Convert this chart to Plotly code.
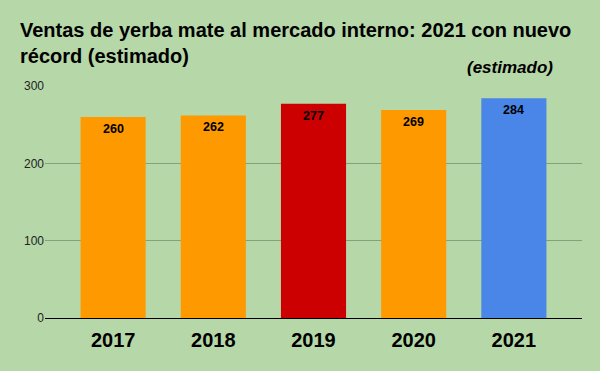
import plotly.graph_objects as go

years = ["2017", "2018", "2019", "2020", "2021"]
values = [260, 262, 277, 269, 284]
colors = ["#FF9900", "#FF9900", "#CC0000", "#FF9900", "#4A86E8"]
title_text = "Ventas de yerba mate al mercado interno: 2021 con nuevo<br>récord (estimado)"
note_text = "(estimado)"

FONT = "Liberation Sans, Arial"

fig = go.Figure(go.Bar(
    x=years, y=values, marker_color=colors, marker_line_width=0,
    width=0.65, hoverinfo="x+y",
))

annotations = [
    dict(text=title_text, x=-0.0503, xref="paper", xanchor="left", align="left",
         y=1.185, yref="paper", yanchor="middle", showarrow=False,
         font=dict(family=FONT, size=20, color="#000000", weight="bold")),
    dict(text=note_text, x=3.96, y=1.078, xref="x", yref="paper", showarrow=False,
         yanchor="middle", xanchor="center",
         font=dict(family=FONT, size=17, color="#000000", weight="bold", style="italic")),
]
for i, v in enumerate(values):
    annotations.append(dict(text=str(v), x=i, y=v, xref="x", yref="y", showarrow=False,
                            yanchor="top", yshift=-3,
                            font=dict(family=FONT, size=12.5, color="#000000", weight="bold")))

fig.update_layout(
    width=600, height=371,
    paper_bgcolor="#B6D7A8", plot_bgcolor="#B6D7A8",
    margin=dict(l=45, r=18, t=86, b=53),
    showlegend=False,
    xaxis=dict(type="category", range=[-0.68, 4.68], showgrid=False, showline=True,
               linecolor="#000000", linewidth=1,
               tickfont=dict(family=FONT, size=20, color="#000000", weight="bold"),
               ticks="", ticklabelstandoff=4, fixedrange=True),
    yaxis=dict(range=[0, 300], tickvals=[0, 100, 200, 300], showgrid=True, gridcolor="#86A07C",
               gridwidth=1, zeroline=False, ticks="", fixedrange=True,
               tickfont=dict(family=FONT, size=12, color="#222222")),
    annotations=annotations,
)

fig.write_html("out.html")
